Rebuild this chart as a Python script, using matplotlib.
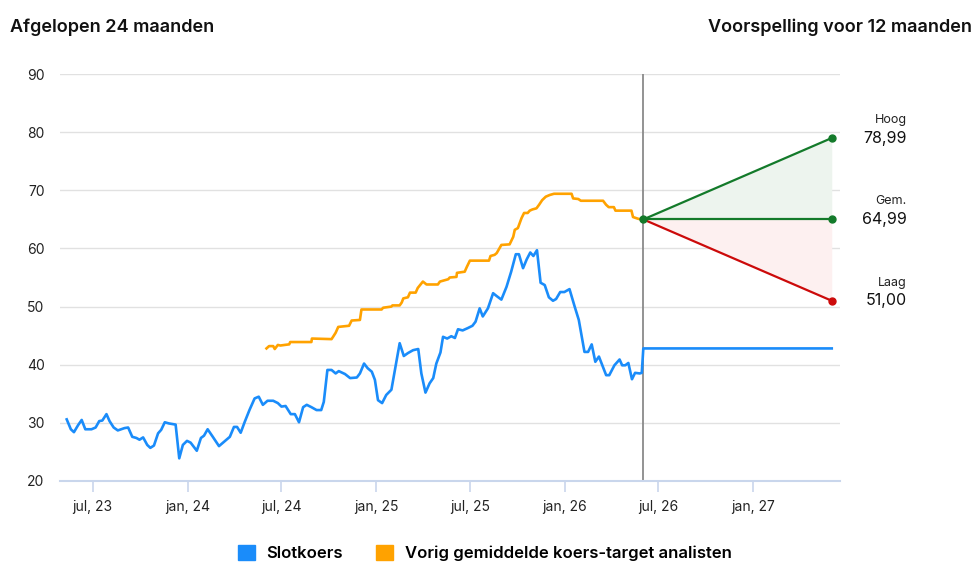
import numpy as np
import pandas as pd
import matplotlib
matplotlib.use("Agg")
import matplotlib.pyplot as plt
import matplotlib.dates as mdates
from matplotlib.patches import Patch

plt.rcParams['font.family'] = ['Inter', 'DejaVu Sans']

# slotkoers (closing price)
close_dates = [
    "2023-05-12", "2023-05-20", "2023-05-26", "2023-06-03", "2023-06-10", "2023-06-17", "2023-06-29",
    "2023-07-07", "2023-07-14", "2023-07-20", "2023-07-28", "2023-08-03", "2023-08-11", "2023-08-19",
    "2023-09-01", "2023-09-08", "2023-09-16", "2023-09-24", "2023-09-30", "2023-10-07", "2023-10-15",
    "2023-10-21", "2023-10-28", "2023-11-05", "2023-11-11", "2023-11-18", "2023-11-26", "2023-12-09",
    "2023-12-16", "2023-12-23", "2023-12-31", "2024-01-07", "2024-01-19", "2024-01-27", "2024-02-02",
    "2024-02-09", "2024-02-19", "2024-03-02", "2024-03-23", "2024-03-31", "2024-04-06", "2024-04-13",
    "2024-04-21", "2024-04-30", "2024-05-10", "2024-05-18", "2024-05-26", "2024-06-04", "2024-06-15",
    "2024-06-24", "2024-07-01", "2024-07-09", "2024-07-19", "2024-07-27", "2024-08-04", "2024-08-12",
    "2024-08-19", "2024-08-28", "2024-09-07", "2024-09-16", "2024-09-21", "2024-09-28", "2024-10-06",
    "2024-10-14", "2024-10-20", "2024-11-01", "2024-11-11", "2024-11-24", "2024-11-30", "2024-12-08",
    "2024-12-15", "2024-12-23", "2024-12-29", "2025-01-04", "2025-01-12", "2025-01-20", "2025-01-30",
    "2025-02-15", "2025-02-23", "2025-03-03", "2025-03-13", "2025-03-23", "2025-03-29", "2025-04-06",
    "2025-04-14", "2025-04-21", "2025-04-27", "2025-05-05", "2025-05-10", "2025-05-18", "2025-05-26",
    "2025-06-02", "2025-06-08", "2025-06-17", "2025-06-27", "2025-07-06", "2025-07-12", "2025-07-20",
    "2025-07-26", "2025-08-05", "2025-08-15", "2025-08-22", "2025-08-31", "2025-09-10", "2025-09-19",
    "2025-09-28", "2025-10-04", "2025-10-12", "2025-10-19", "2025-10-26", "2025-11-01", "2025-11-08",
    "2025-11-15", "2025-11-23", "2025-12-01", "2025-12-09", "2025-12-15", "2025-12-23", "2025-12-31",
    "2026-01-10", "2026-01-20", "2026-01-28", "2026-02-08", "2026-02-15", "2026-02-22", "2026-03-01",
    "2026-03-08", "2026-03-22", "2026-03-28", "2026-04-07", "2026-04-17", "2026-04-22", "2026-04-28",
    "2026-05-04", "2026-05-11", "2026-05-17", "2026-05-26", "2026-05-30", "2026-06-02", "2027-06-02",
]
close_values = [
    30.6, 28.9, 28.4, 29.6, 30.5, 28.9, 28.9,
    29.2, 30.3, 30.4, 31.5, 30.3, 29.2, 28.7,
    29.1, 29.2, 27.6, 27.4, 27.1, 27.5, 26.2,
    25.7, 26.1, 28.2, 28.8, 30.1, 29.9, 29.7,
    23.9, 26.2, 26.9, 26.6, 25.2, 27.4, 27.8,
    28.9, 27.6, 26.0, 27.6, 29.3, 29.3, 28.3,
    30.2, 32.2, 34.2, 34.5, 33.1, 33.8, 33.8,
    33.4, 32.8, 32.9, 31.5, 31.5, 30.1, 32.7,
    33.1, 32.7, 32.2, 32.2, 33.6, 39.1, 39.1,
    38.5, 38.9, 38.4, 37.7, 37.8, 38.5, 40.2,
    39.4, 38.8, 37.4, 33.9, 33.4, 34.8, 35.7,
    43.7, 41.5, 42.0, 42.5, 42.7, 38.5, 35.2,
    36.8, 37.7, 40.2, 42.1, 44.8, 44.5, 44.9,
    44.6, 46.1, 45.9, 46.3, 46.7, 47.4, 49.7,
    48.3, 49.7, 52.3, 51.8, 51.2, 53.4, 56.0,
    59.0, 59.0, 56.6, 58.1, 59.3, 58.7, 59.7,
    54.1, 53.7, 51.6, 51.0, 51.3, 52.5, 52.5,
    53.0, 50.0, 47.7, 42.2, 42.2, 43.5, 40.5,
    41.4, 38.2, 38.2, 39.9, 40.9, 39.9, 39.9,
    40.3, 37.5, 38.6, 38.5, 38.6, 42.8, 42.8,
]

# vorig gemiddelde koers-target analisten
target_dates = [
    "2024-06-02", "2024-06-07", "2024-06-15", "2024-06-18", "2024-06-24", "2024-06-29", "2024-07-07",
    "2024-07-16", "2024-07-18", "2024-08-28", "2024-08-29", "2024-10-06", "2024-10-09", "2024-10-14",
    "2024-10-19", "2024-11-09", "2024-11-14", "2024-11-30", "2024-12-03", "2025-01-11", "2025-01-14",
    "2025-01-30", "2025-02-01", "2025-02-15", "2025-02-19", "2025-02-22", "2025-03-03", "2025-03-07",
    "2025-03-18", "2025-03-22", "2025-04-01", "2025-04-08", "2025-04-30", "2025-05-04", "2025-05-20",
    "2025-05-23", "2025-06-05", "2025-06-06", "2025-06-21", "2025-06-25", "2025-07-01", "2025-08-07",
    "2025-08-10", "2025-08-18", "2025-08-22", "2025-08-31", "2025-09-16", "2025-09-23", "2025-09-26",
    "2025-10-02", "2025-10-09", "2025-10-14", "2025-10-21", "2025-10-25", "2025-10-30", "2025-11-07",
    "2025-11-12", "2025-11-18", "2025-11-25", "2025-12-03", "2025-12-11", "2026-01-14", "2026-01-17",
    "2026-01-27", "2026-02-01", "2026-03-16", "2026-03-22", "2026-03-27", "2026-04-06", "2026-04-09",
    "2026-05-10", "2026-05-13", "2026-05-23", "2026-05-30",
]
target_values = [
    42.8, 43.2, 43.2, 42.7, 43.4, 43.3, 43.4,
    43.5, 43.9, 43.9, 44.5, 44.4, 44.8, 45.5,
    46.5, 46.7, 47.6, 47.7, 49.5, 49.5, 49.8,
    50.0, 50.2, 50.2, 50.7, 51.4, 51.6, 52.4,
    52.4, 53.2, 54.3, 53.8, 53.8, 54.3, 54.7,
    55.0, 55.1, 55.8, 56.0, 56.8, 57.9, 57.9,
    58.7, 58.9, 59.2, 60.6, 60.7, 62.0, 63.2,
    63.5, 65.2, 66.1, 66.1, 66.5, 66.7, 66.9,
    67.5, 68.3, 68.9, 69.2, 69.4, 69.4, 68.6,
    68.5, 68.2, 68.2, 67.5, 67.1, 67.1, 66.5,
    66.5, 65.4, 65.1, 65.0,
]

# voorspelling
forecast_dates = ["2026-06-02", "2027-06-02"]
forecast_start = 64.99
forecast_high = 78.99
forecast_avg = 64.99
forecast_low = 51.00
forecast_labels = ["Hoog", "Gem.", "Laag"]

BLUE = "#1a8cfa"
ORANGE = "#ffa200"
GREEN = "#137a2a"
RED = "#cc0a0a"

close_x = pd.to_datetime(close_dates)
target_x = pd.to_datetime(target_dates)
fc_x = pd.to_datetime(forecast_dates)

fig = plt.figure(figsize=(9.8, 5.7), dpi=100)
ax = fig.add_axes([60 / 980, 89 / 570, 780 / 980, 407 / 570])

# forecast fan
ax.fill_between(fc_x, [forecast_start, forecast_avg], [forecast_start, forecast_high],
                color="#edf4ee", lw=0, zorder=1)
ax.fill_between(fc_x, [forecast_start, forecast_low], [forecast_start, forecast_avg],
                color="#fdf0f0", lw=0, zorder=1)

ax.plot(close_x, close_values, color=BLUE, lw=1.9, zorder=3, solid_joinstyle="round")
ax.plot(target_x, target_values, color=ORANGE, lw=1.9, zorder=3, solid_joinstyle="round")

ax.plot(fc_x, [forecast_start, forecast_high], color=GREEN, lw=1.6, zorder=4)
ax.plot(fc_x, [forecast_start, forecast_avg], color=GREEN, lw=1.6, zorder=4)
ax.plot(fc_x, [forecast_start, forecast_low], color=RED, lw=1.6, zorder=4)

ax.axvline(fc_x[0], color="#8a8a8a", lw=1.3, zorder=2)

ax.plot([fc_x[0]], [forecast_start], "o", color=GREEN, ms=5, zorder=5)
end_vals = [forecast_high, forecast_avg, forecast_low]
end_cols = [GREEN, GREEN, RED]
for lab, v, c in zip(forecast_labels, end_vals, end_cols):
    ax.plot([fc_x[1]], [v], "o", color=c, ms=5, zorder=5, clip_on=False)
    ax.annotate(lab, xy=(fc_x[1], v), xytext=(75, 18), textcoords="offset pixels",
                ha="right", va="center", fontsize=9, color="#222222", annotation_clip=False)
    ax.annotate(f"{v:.2f}".replace(".", ","), xy=(fc_x[1], v), xytext=(75, 0),
                textcoords="offset pixels", ha="right", va="center", fontsize=11.5,
                color="#111111", annotation_clip=False)

ax.set_xlim(pd.Timestamp("2023-04-29"), pd.Timestamp("2027-06-18"))
ax.set_ylim(20, 90)
ax.set_yticks(range(20, 91, 10))
ax.grid(axis="y", color="#e1e1e1", lw=1)
ax.set_axisbelow(True)

ticks = pd.to_datetime(["2023-07-01", "2024-01-01", "2024-07-01", "2025-01-01",
                        "2025-07-01", "2026-01-01", "2026-07-01", "2027-01-01"])
tick_labels = ["jul, 23", "jan, 24", "jul, 24", "jan, 25", "jul, 25", "jan, 26", "jul, 26", "jan, 27"]
ax.set_xticks(ticks)
ax.set_xticklabels(tick_labels)

for s in ["top", "right", "left"]:
    ax.spines[s].set_visible(False)
ax.spines["bottom"].set_color("#c9d6ec")
ax.spines["bottom"].set_linewidth(1.5)
ax.tick_params(axis="x", colors="#c9d6ec", length=8, width=1.2, pad=6,
               labelcolor="#222222", labelsize=10)
ax.tick_params(axis="y", length=0, pad=11, labelcolor="#222222", labelsize=10)

fig.text(10 / 980, 1 - 27 / 570, "Afgelopen 24 maanden", ha="left", va="center",
         fontsize=13, fontweight="semibold", color="#111111")
fig.text(972 / 980, 1 - 27 / 570, "Voorspelling voor 12 maanden", ha="right", va="center",
         fontsize=13, fontweight="semibold", color="#111111")

handles = [Patch(color=BLUE, label="Slotkoers"),
           Patch(color=ORANGE, label="Vorig gemiddelde koers-target analisten")]
fig.legend(handles=handles, loc="center", bbox_to_anchor=(485 / 980, 1 - 553 / 570), ncol=2,
           frameon=False, handlelength=1.0, handleheight=1.0,
           handletextpad=0.7, columnspacing=2.0, prop={"weight": "semibold", "size": 12})

fig.savefig("out.png", dpi=100)
